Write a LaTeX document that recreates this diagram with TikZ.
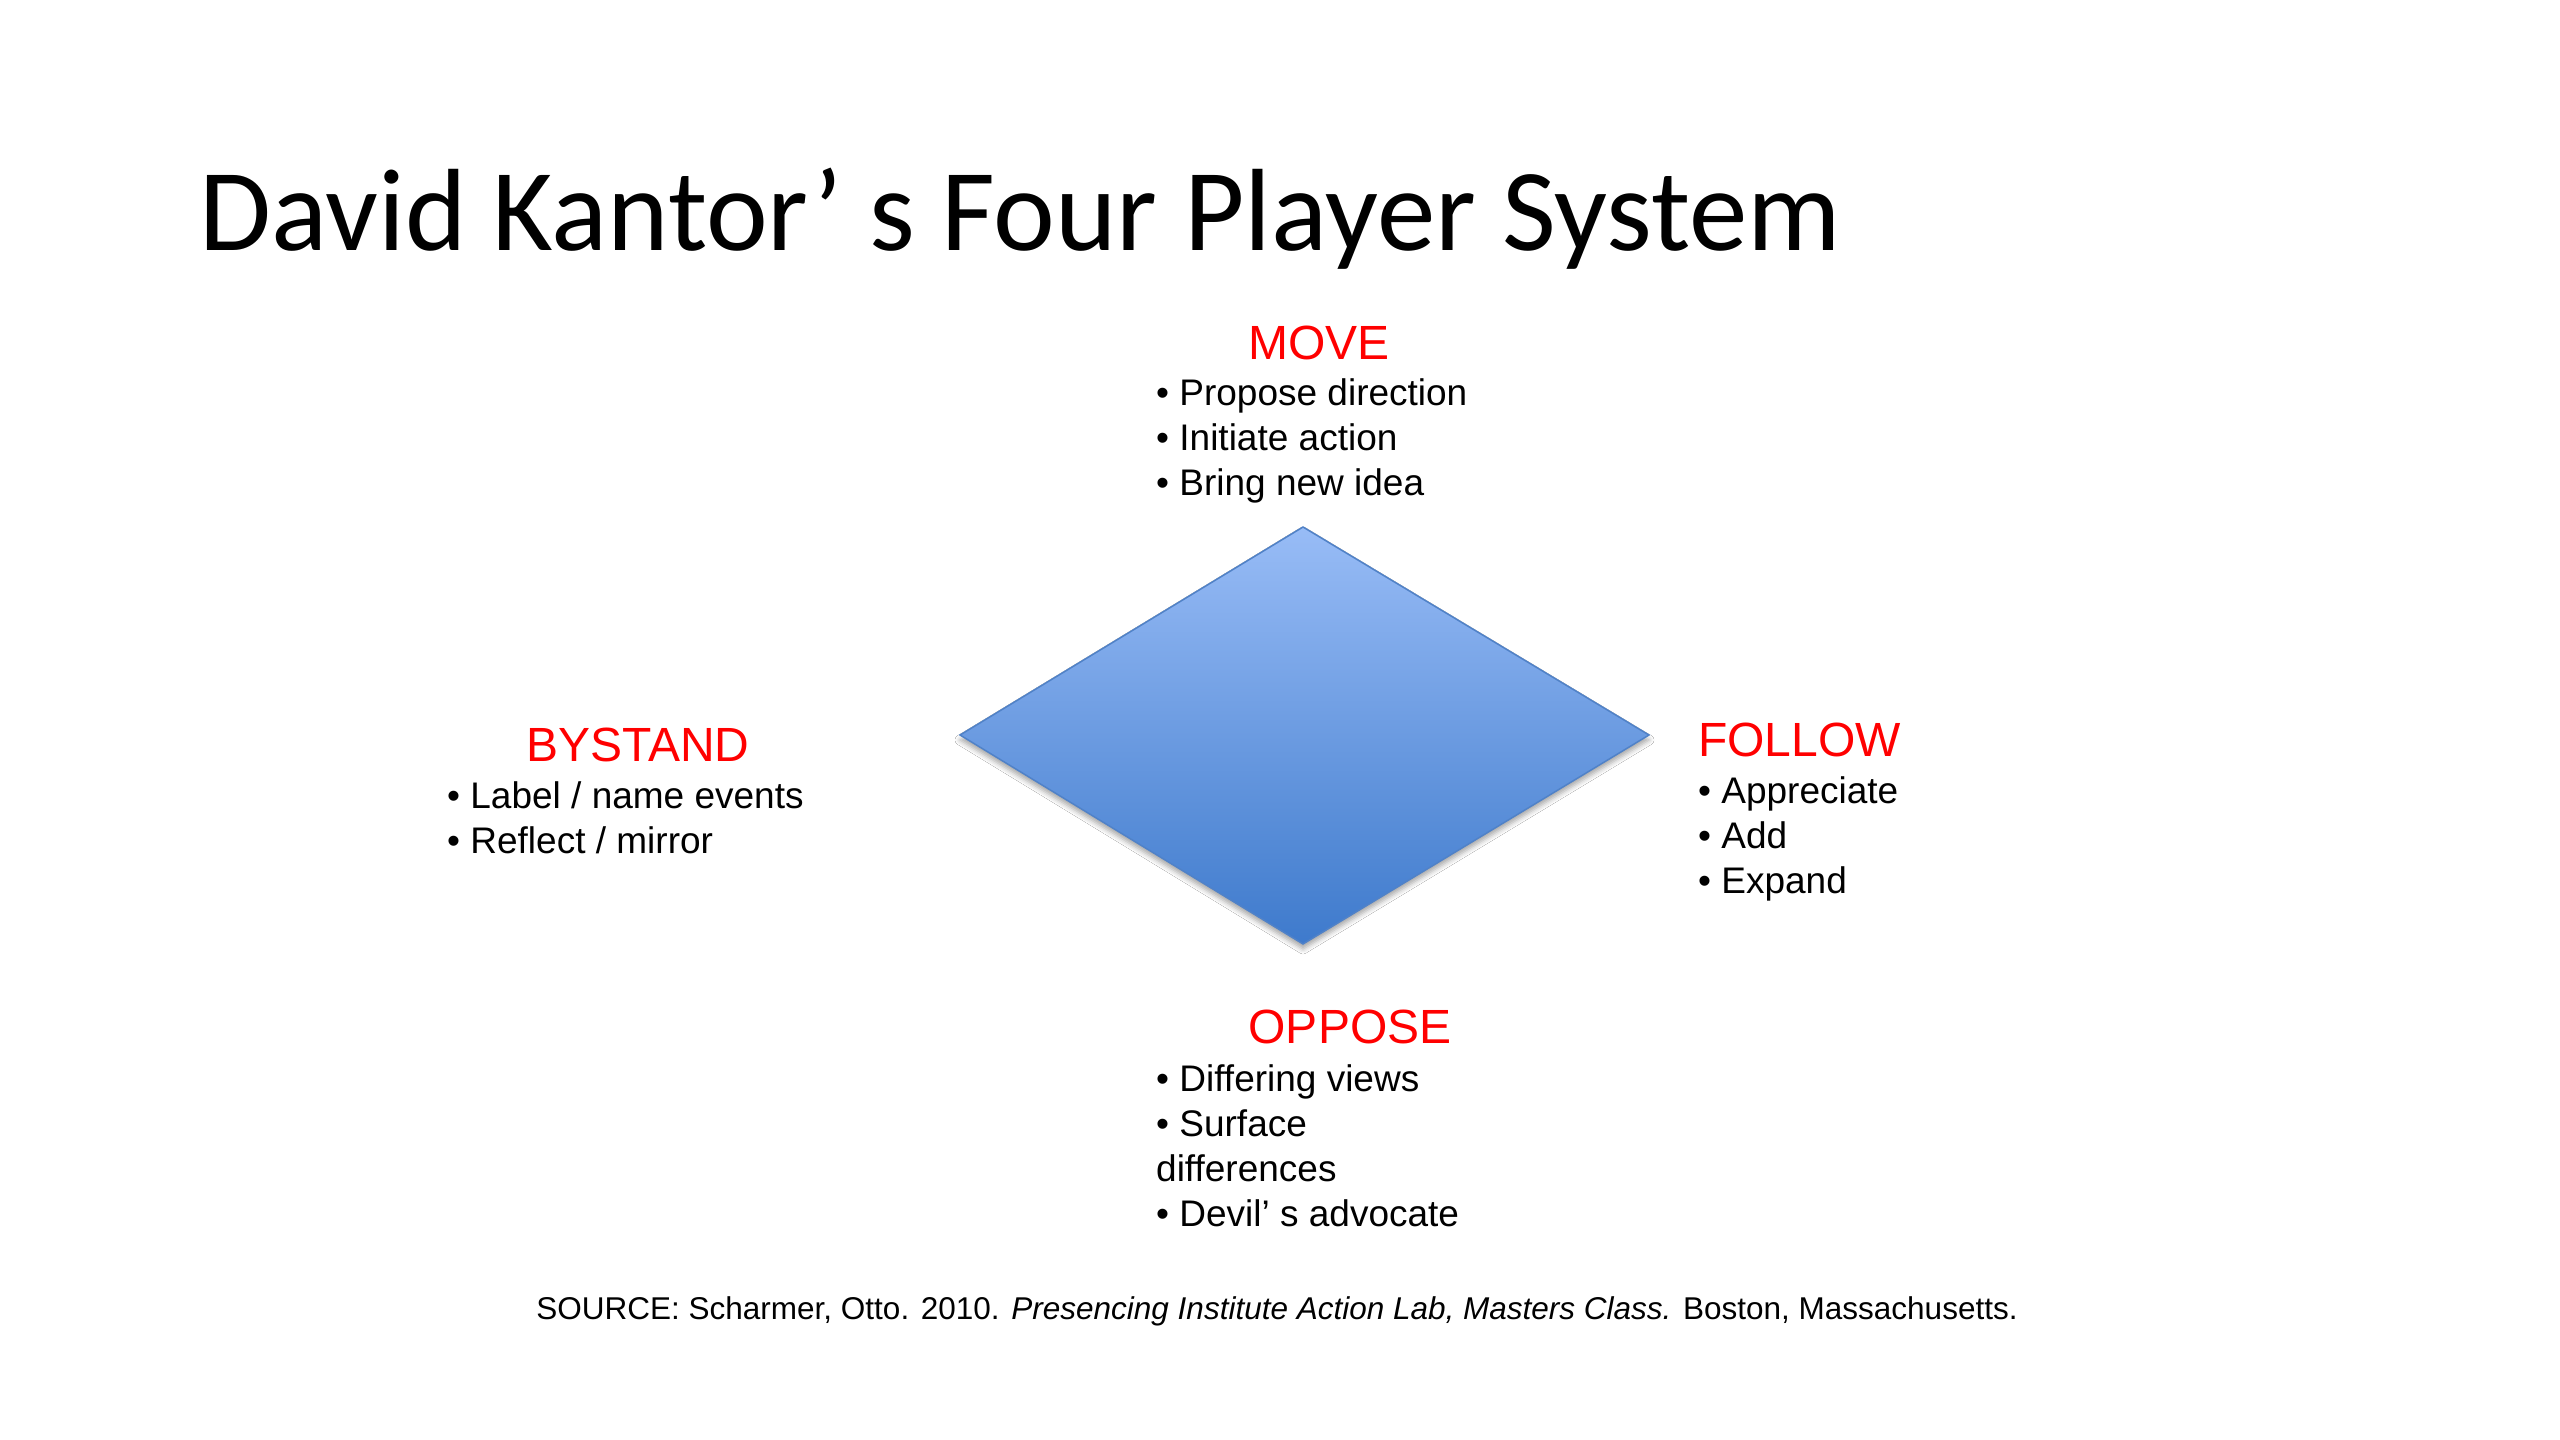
\documentclass[tikz,border=0pt]{standalone}
\usepackage{fontspec}
\setmainfont{Liberation Sans}
\newfontfamily\titlefont{Carlito}
\usetikzlibrary{shadows.blur}
\definecolor{gtop}{RGB}{152,188,246}
\definecolor{gbot}{RGB}{62,122,204}
\definecolor{gedge}{RGB}{80,130,200}
\definecolor{hdred}{RGB}{255,0,0}
\tikzset{
  heading/.style={text=hdred, font=\fontsize{48}{56}\selectfont, inner sep=0pt, anchor=base},
  bullets/.style={font=\fontsize{37}{45}\selectfont, align=left, inner sep=0pt, anchor=base west, text=black},
}
\begin{document}
\begin{tikzpicture}[x=1pt,y=-1pt]
\fill[white] (0,0) rectangle (2560,1440);
\useasboundingbox (0,0) rectangle (2560,1440);
\node[anchor=base west, inner sep=0pt, font=\titlefont\fontsize{117}{127}\selectfont] (title) at (199,250) {David Kantor’ s Four Player System};
% diamond
\coordinate (T) at (1303,527);
\coordinate (L) at (960,735);
\coordinate (R) at (1649,735);
\coordinate (B) at (1303,944);
\path[draw=gedge, line width=1.5pt, top color=gtop, bottom color=gbot,
  blur shadow={shadow xshift=0pt, shadow yshift=-5pt, shadow blur radius=5pt, shadow opacity=35}]
  (T) -- (R) -- (B) -- (L) -- cycle;
% MOVE (bullet nodes anchored at the baseline of their last line)
\node[heading] (move) at (1319,359) {MOVE};
\node[bullets] (movel) at (1156,495) {• Propose direction\\• Initiate action\\• Bring new idea};
% BYSTAND
\node[heading] (bystand) at (638,761) {BYSTAND};
\node[bullets] (bystandl) at (447,853) {• Label / name events\\• Reflect / mirror};
% FOLLOW
\node[heading, anchor=base west] (follow) at (1698,756) {FOLLOW};
\node[bullets] (followl) at (1698,893) {• Appreciate\\• Add\\• Expand};
% OPPOSE
\node[heading] (oppose) at (1350,1043) {OPPOSE};
\node[bullets] (opposel) at (1156,1226) {• Differing views\\• Surface\\differences\\• Devil’ s advocate};
% source
\node[anchor=base, inner sep=0pt, font=\fontsize{31.5}{38}\selectfont] (source) at (1277,1319) {SOURCE: Scharmer, Otto. 2010. \textit{Presencing Institute Action Lab, Masters Class.} Boston, Massachusetts.};
\end{tikzpicture}
\end{document}
